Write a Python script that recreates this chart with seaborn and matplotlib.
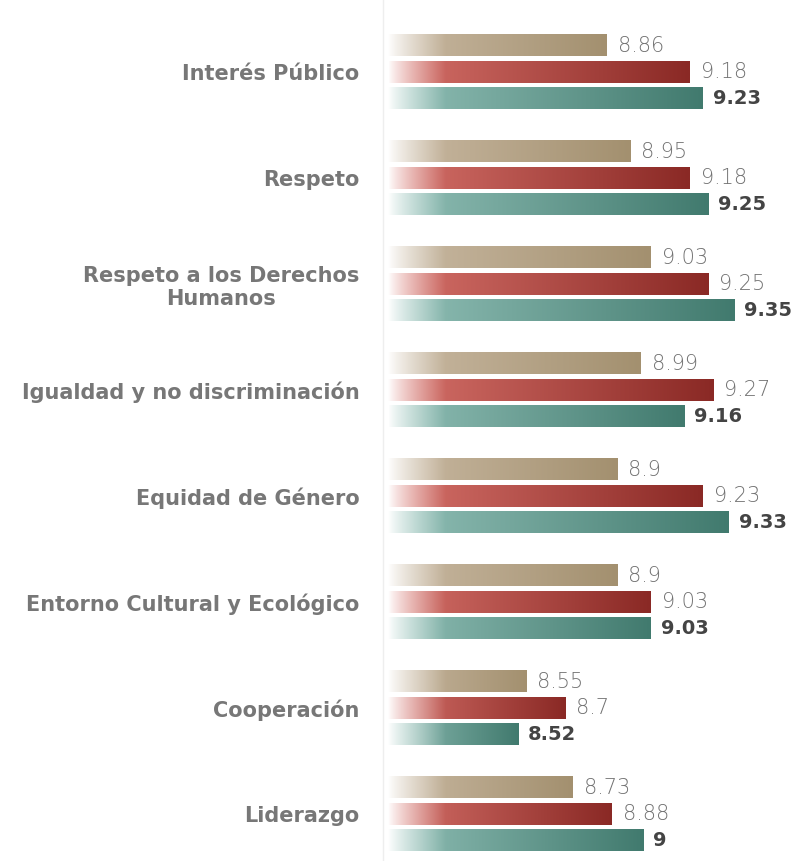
import numpy as np
import matplotlib
matplotlib.use("Agg")
import matplotlib.pyplot as plt
import seaborn as sns
import pandas as pd

# Categories and the three series (top to bottom within each group)
categories = ["Interés Público", "Respeto", "Respeto a los Derechos\nHumanos",
              "Igualdad y no discriminación", "Equidad de Género",
              "Entorno Cultural y Ecológico", "Cooperación", "Liderazgo"]
series_names = ["Serie 1", "Serie 2", "Serie 3"]
serie_1 = [8.86, 8.95, 9.03, 8.99, 8.90, 8.90, 8.55, 8.73]
serie_2 = [9.18, 9.18, 9.25, 9.27, 9.23, 9.03, 8.70, 8.88]
serie_3 = [9.23, 9.25, 9.35, 9.16, 9.33, 9.03, 8.52, 9.00]

# light start / dark end colour for each series
light_cols = ["#cbbba5", "#d8736c", "#93c1b8"]
dark_cols = ["#a3906f", "#8a2925", "#417a6e"]

df = pd.DataFrame({
    "categoria": categories * 3,
    "serie": sum([[s] * len(categories) for s in series_names], []),
    "valor": serie_1 + serie_2 + serie_3,
})

sns.set_style("white")
plt.rcParams["font.family"] = ["DejaVu Sans"]

fig = plt.figure(figsize=(7.94, 8.61), dpi=100)
ax = fig.add_axes([0.4824, 0.0, 0.5126, 1.0])

sns.barplot(data=df, y="categoria", x="valor", hue="serie", orient="h",
            width=0.75, gap=0.2, palette=dark_cols, legend=False, ax=ax)

X0, X1 = 8.0, 9.565
ax.set_xlim(X0, X1)
ax.set_ylim(7.44, -0.68)

def to_rgb(c):
    return np.array(matplotlib.colors.to_rgb(c))

# replace flat bars with a white -> colour gradient
for k, cont in enumerate(ax.containers):
    lc, dc = to_rgb(light_cols[k]), to_rgb(dark_cols[k])
    for bar in cont:
        bar.set_visible(False)
        y = bar.get_y()
        h = bar.get_height()
        xe = bar.get_x() + bar.get_width()
        xs = np.linspace(X0, xe, 300)
        fade = np.clip((xs - X0 - 0.02) / 0.22, 0, 1) ** 0.8
        frac = (xs - X0) / (xe - X0)
        col = lc[None, :] * (1 - frac[:, None]) + dc[None, :] * frac[:, None]
        rgb = np.ones((300, 3)) * (1 - fade[:, None]) + col * fade[:, None]
        ax.imshow(rgb[None, :, :], extent=[X0, xe, y + h, y], aspect="auto",
                  interpolation="bilinear", zorder=2)
    vals = [b.get_width() for b in cont]
    labs = [f"{v:g}" for v in vals]
    if k < 2:
        ax.bar_label(cont, labels=labs, padding=8, fontsize=15,
                     color="#727272", fontweight="light")
    else:
        ax.bar_label(cont, labels=labs, padding=7, fontsize=14,
                     color="#444444", fontweight="bold")

ax.set_xlim(X0, X1)
ax.set_ylim(7.44, -0.68)
ax.set_xlabel("")
ax.set_ylabel("")
ax.set_xticks([])
ax.tick_params(axis="y", length=0, pad=17)
for lab in ax.get_yticklabels():
    lab.set_fontsize(15)
    lab.set_fontweight("bold")
    lab.set_color("#777777")
    lab.set_multialignment("center")

for s in ["top", "right", "bottom"]:
    ax.spines[s].set_visible(False)
ax.spines["left"].set_color("#eeeeee")
ax.spines["left"].set_linewidth(1.0)

fig.savefig("out.png", dpi=100)
